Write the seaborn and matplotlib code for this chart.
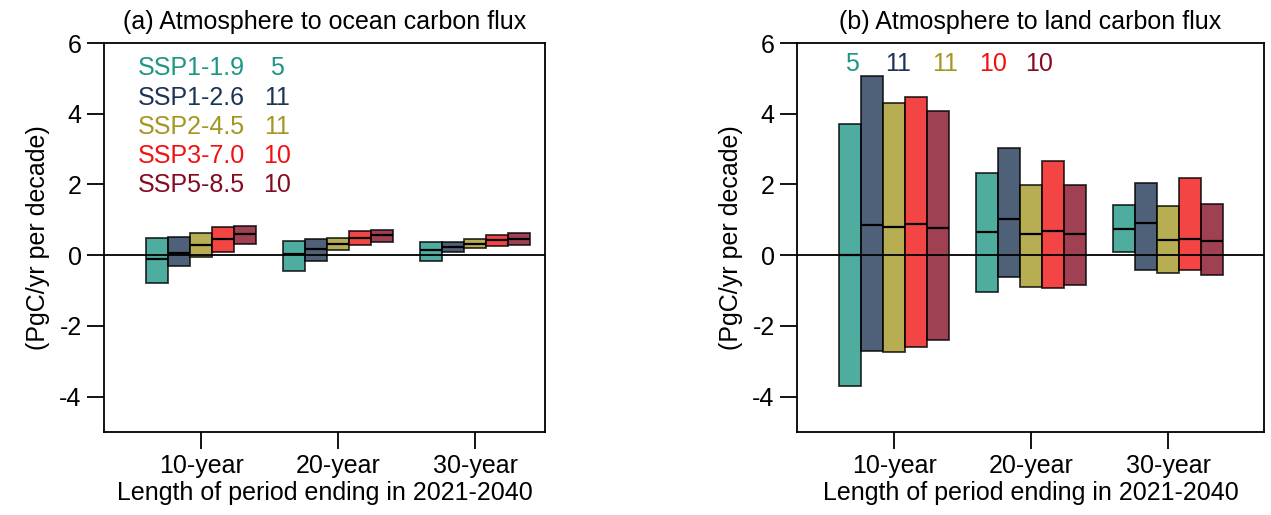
import matplotlib
matplotlib.use("Agg")
import matplotlib.pyplot as plt
import numpy as np
import seaborn as sns

# scenarios, colours and ensemble sizes
scenarios = ["SSP1-1.9", "SSP1-2.6", "SSP2-4.5", "SSP3-7.0", "SSP5-8.5"]
colors = ["#1e9684", "#1d3354", "#a39621", "#f21111", "#840b22"]
n_models = ["5", "11", "11", "10", "10"]
periods = ["10-year", "20-year", "30-year"]

# (a) ocean flux: low / high / median per scenario, for 10, 20, 30 year periods
ocean_low = [[-0.79, -0.46, -0.17], [-0.31, -0.16, 0.08], [-0.05, 0.16, 0.19],
             [0.09, 0.30, 0.27], [0.33, 0.36, 0.30]]
ocean_high = [[0.48, 0.40, 0.37], [0.52, 0.45, 0.38], [0.62, 0.49, 0.45],
              [0.81, 0.68, 0.57], [0.83, 0.71, 0.64]]
ocean_med = [[-0.12, 0.02, 0.16], [0.07, 0.17, 0.24], [0.28, 0.33, 0.31],
             [0.46, 0.48, 0.44], [0.61, 0.57, 0.46]]

# (b) land flux
land_low = [[-3.69, -1.05, 0.10], [-2.70, -0.62, -0.43], [-2.74, -0.91, -0.50],
            [-2.60, -0.94, -0.43], [-2.39, -0.85, -0.55]]
land_high = [[3.70, 2.33, 1.43], [5.06, 3.02, 2.05], [4.29, 1.98, 1.39],
             [4.47, 2.66, 2.19], [4.07, 1.98, 1.46]]
land_med = [[0.0, 0.66, 0.74], [0.84, 1.01, 0.92], [0.80, 0.59, 0.44],
            [0.89, 0.68, 0.47], [0.76, 0.59, 0.41]]

sns.set_theme(style="ticks")
plt.rcParams['font.family'] = ['Liberation Sans', 'DejaVu Sans']
plt.rcParams['axes.unicode_minus'] = False
plt.rcParams['text.color'] = 'black'
plt.rcParams['axes.labelcolor'] = 'black'
FS = 18

BAR_W = 0.16
group_x = np.arange(1, len(periods) + 1)


def draw_panel(ax, low, high, med, title, xlim):
    for i, sc in enumerate(scenarios):
        lo = np.array(low[i])
        hi = np.array(high[i])
        xpos = group_x + (i - 2) * BAR_W
        sns.barplot(x=xpos, y=hi - lo, bottom=lo, native_scale=True, width=BAR_W,
                    color=colors[i], saturation=1, alpha=0.78, edgecolor="black",
                    linewidth=1.3, errorbar=None, ax=ax)
        ax.hlines(med[i], xpos - BAR_W / 2, xpos + BAR_W / 2, color="black", lw=1.6, zorder=5)
    ax.axhline(0, color="black", lw=1.3, zorder=6)
    ax.set_xlim(*xlim)
    ax.set_ylim(-5, 6)
    ax.set_xticks(group_x)
    ax.set_xticklabels(periods, fontsize=FS)
    ax.set_yticks([-4, -2, 0, 2, 4, 6])
    ax.set_yticklabels(["-4", "-2", "0", "2", "4", "6"], fontsize=FS)
    ax.tick_params(direction="out", length=12, width=1.3, pad=4, colors="black")
    for sp in ax.spines.values():
        sp.set_visible(True)
        sp.set_linewidth(1.3)
        sp.set_color("black")
    ax.set_title(title, fontsize=FS, pad=10, color="black")
    ax.set_xlabel("Length of period ending in 2021-2040", fontsize=FS, labelpad=2)
    ax.set_ylabel("(PgC/yr per decade)", fontsize=FS, labelpad=7)


fig = plt.figure(figsize=(12.71, 5.15), dpi=100)
ax1 = fig.add_axes([0.0818, 0.1612, 0.347, 0.7553])
ax2 = fig.add_axes([0.627, 0.1612, 0.3674, 0.7553])

draw_panel(ax1, ocean_low, ocean_high, ocean_med,
           "(a) Atmosphere to ocean carbon flux", (0.29, 3.51))
draw_panel(ax2, land_low, land_high, land_med,
           "(b) Atmosphere to land carbon flux", (0.29, 3.70))

# scenario key in panel (a)
key_y = [0.936, 0.859, 0.784, 0.710, 0.635]
for i, sc in enumerate(scenarios):
    ax1.text(0.077, key_y[i], sc, color=colors[i], fontsize=FS,
             transform=ax1.transAxes, ha="left", va="center")
    ax1.text(0.392, key_y[i], n_models[i], color=colors[i], fontsize=FS,
             transform=ax1.transAxes, ha="center", va="center")

# model counts in panel (b)
num_x = [0.118, 0.216, 0.317, 0.420, 0.518]
for i in range(len(scenarios)):
    ax2.text(num_x[i], 0.946, n_models[i], color=colors[i], fontsize=FS,
             transform=ax2.transAxes, ha="center", va="center")

fig.savefig("out.png", dpi=100)
